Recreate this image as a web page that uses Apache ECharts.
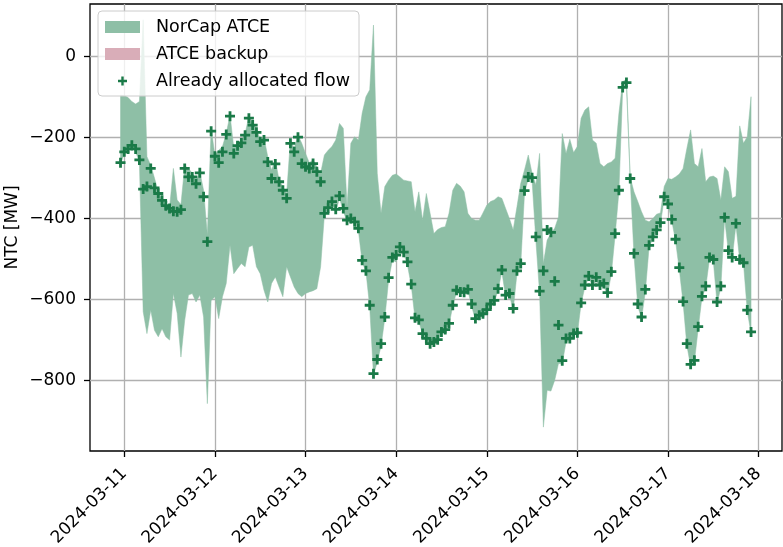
<!DOCTYPE html>
<html><head><meta charset="utf-8">
<script src="https://cdn.jsdelivr.net/npm/echarts@6/dist/echarts.min.js"></script>
<style>html,body{margin:0;padding:0;background:#fff}#c{width:783px;height:547px}</style>
</head><body><div id="c"></div>
<script>
// hourly data, first point 2024-03-10 23:00 UTC
const startTime = '2024-03-10T23:00:00Z';
const flow = [-262,-235,-228,-219,-228,-255,-327,-321,-276,-324,
-338,-355,-368,-375,-382,-383,-378,-276,-297,-297,
-314,-287,-346,-457,-184,-246,-262,-235,-192,-147,
-239,-220,-213,-194,-152,-169,-187,-210,-206,-260,
-301,-265,-309,-330,-350,-214,-235,-199,-264,-272,
-276,-264,-284,-309,-387,-373,-358,-377,-344,-375,
-404,-400,-408,-424,-503,-529,-614,-783,-748,-709,
-643,-546,-496,-490,-470,-483,-507,-562,-645,-650,
-684,-696,-709,-705,-699,-680,-674,-659,-614,-577,
-581,-582,-575,-611,-647,-639,-635,-625,-611,-602,
-573,-527,-589,-585,-622,-529,-511,-331,-297,-299,
-445,-579,-529,-428,-434,-555,-663,-751,-696,-696,
-684,-682,-608,-564,-542,-564,-545,-564,-560,-583,
-531,-437,-330,-76,-64,-301,-486,-611,-643,-575,
-466,-445,-428,-410,-346,-364,-402,-451,-521,-605,
-709,-760,-750,-667,-592,-567,-496,-501,-606,-567,
-397,-479,-496,-412,-501,-509,-626,-680];
const upper = [-95,-96,-101,-111,-117,-111,91,-247,-268,-300,
-334,-352,-364,-372,-276,-354,-365,-270,-276,-288,
-305,-284,-330,-440,-177,-243,-231,-222,-190,-144,
-225,-218,-206,-190,-148,-165,-177,-206,-200,-247,
-280,-255,-305,-321,-338,-206,-227,-194,-214,-239,
-262,-255,-272,-288,-243,-231,-222,-206,-165,-177,
-370,-214,-198,-206,-140,-99,-82,78,-288,-387,
-321,-305,-293,-290,-297,-305,-307,-309,-383,-334,
-404,-338,-387,-437,-427,-422,-420,-387,-330,-313,
-320,-334,-387,-400,-404,-404,-386,-367,-358,-354,
-346,-350,-375,-400,-428,-371,-313,-280,-243,-288,
-317,-239,-511,-453,-437,-424,-396,-190,-239,-204,
-237,-222,-152,-132,-124,-206,-214,-264,-272,-264,
-260,-251,-140,-62,-56,-298,-334,-358,-383,-404,
-408,-400,-389,-386,-321,-301,-303,-297,-290,-276,
-227,-181,-264,-272,-227,-309,-297,-295,-301,-354,
-272,-284,-350,-345,-171,-214,-198,-99];
const lower = [-265,-240,-232,-225,-235,-260,-630,-684,-626,-676,
-692,-672,-692,-700,-585,-634,-742,-651,-589,-585,
-606,-589,-643,-857,-602,-593,-647,-593,-560,-466,
-536,-523,-511,-519,-470,-466,-519,-536,-577,-606,
-560,-544,-569,-593,-519,-544,-569,-585,-593,-585,
-581,-578,-573,-519,-391,-379,-364,-383,-350,-381,
-408,-404,-414,-430,-507,-531,-618,-787,-754,-715,
-647,-552,-503,-507,-474,-486,-515,-565,-647,-653,
-686,-699,-713,-709,-702,-684,-676,-663,-616,-581,
-585,-585,-578,-616,-651,-643,-639,-628,-616,-606,
-577,-531,-593,-589,-626,-536,-515,-338,-301,-305,
-453,-585,-915,-824,-826,-799,-758,-758,-705,-699,
-686,-684,-610,-569,-545,-567,-552,-569,-567,-589,
-536,-441,-334,-81,-70,-305,-490,-616,-647,-581,
-470,-449,-430,-414,-350,-367,-405,-455,-526,-608,
-713,-765,-754,-672,-595,-570,-499,-504,-610,-570,
-400,-482,-499,-416,-503,-511,-628,-684];
const xTickLabels = ['2024-03-11','2024-03-12','2024-03-13','2024-03-14','2024-03-15','2024-03-16','2024-03-17','2024-03-18'];
const yTicks = [-800,-600,-400,-200,0];
const seriesNames = ['NorCap ATCE','ATCE backup','Already allocated flow'];

const HOUR = 3600000;
const t0 = Date.parse(startTime);
const times = flow.map((_, i) => t0 + i * HOUR);
const xTickValues = xTickLabels.map(s => Date.parse(s + 'T00:00:00Z'));
const xMin = Date.parse('2024-03-10T14:55:00Z');
const xMax = Date.parse('2024-03-18T06:12:00Z');
const FONT = 'DejaVu Sans';
const FS = 17;
const PLUS = 'path://M3.6,0H6.4V3.6H10V6.4H6.4V10H3.6V6.4H0V3.6H3.6Z';
const PLUS_LEGEND = 'path://M0,0M12,12M1.5,4.8H4.8V1.5H7.2V4.8H10.5V7.2H7.2V10.5H4.8V7.2H1.5Z';
const GREEN_FILL = '#8ebfa6';
const PINK_FILL = '#d9adb8';
const MARK = '#1a7a48';

const bandData = times.map((t, i) => [t, lower[i], upper[i]]);

const chart = echarts.init(document.getElementById('c'), null, {renderer: 'canvas', width: 783, height: 547});
chart.setOption({
  animation: false,
  textStyle: {fontFamily: FONT},
  grid: {left: 90, right: 1, top: 4, bottom: 96, outerBoundsMode: 'none', containLabel: false,
    show: true, borderColor: '#000', borderWidth: 1.3, backgroundColor: 'transparent'},
  xAxis: {
    type: 'value', min: xMin, max: xMax, scale: true,
    axisLine: {show: false, onZero: false},
    axisTick: {show: true, customValues: xTickValues, length: 6, lineStyle: {color: '#000', width: 1.3}},
    axisLabel: {customValues: xTickValues, rotate: 45, margin: 20, color: '#000', fontSize: FS, fontFamily: FONT,
      formatter: v => new Date(v).toISOString().slice(0, 10)},
    splitLine: {show: true, lineStyle: {color: '#b0b0b0', width: 1.3}}
  },
  yAxis: {
    type: 'value', min: -974, max: 130,
    name: 'NTC [MW]', nameLocation: 'middle', nameGap: 69, nameRotate: 90, nameMoveOverlap: false,
    nameTextStyle: {color: '#000', fontSize: FS, fontFamily: FONT},
    axisLine: {show: false, onZero: false},
    axisTick: {show: true, customValues: yTicks, length: 6, lineStyle: {color: '#000', width: 1.3}},
    axisLabel: {customValues: yTicks, margin: 14, color: '#000', fontSize: FS, fontFamily: FONT,
      formatter: v => (v < 0 ? '\u2212' + Math.abs(v) : String(v))},
    splitLine: {show: true, lineStyle: {color: '#b0b0b0', width: 1.3}}
  },
  legend: {
    orient: 'vertical', left: 98, top: 11,
    padding: [7, 9, 6, 7],
    itemWidth: 35, itemHeight: 12, itemGap: 9,
    backgroundColor: 'rgba(255,255,255,0.8)', borderColor: '#cccccc', borderWidth: 1, borderRadius: 4,
    textStyle: {color: '#000', fontSize: 17.5, fontFamily: FONT, lineHeight: 17, padding: [0, 0, 0, 11]},
    data: [
      {name: seriesNames[0], icon: 'rect', itemStyle: {color: GREEN_FILL}},
      {name: seriesNames[1], icon: 'rect', itemStyle: {color: PINK_FILL}},
      {name: seriesNames[2], icon: PLUS_LEGEND, itemStyle: {color: MARK, opacity: 1}}
    ]
  },
  series: [
    {type: 'custom', name: seriesNames[0], itemStyle: {color: GREEN_FILL}, z: 2,
      encode: {x: 0, y: [1, 2]},
      data: bandData,
      renderItem: function (params, api) {
        if (params.dataIndex !== 0) return null;
        const pts = [];
        for (let i = 0; i < bandData.length; i++) pts.push(api.coord([bandData[i][0], bandData[i][2]]));
        for (let i = bandData.length - 1; i >= 0; i--) pts.push(api.coord([bandData[i][0], bandData[i][1]]));
        return {type: 'polygon', shape: {points: pts}, style: {fill: GREEN_FILL, stroke: GREEN_FILL, lineWidth: 0.5}};
      }},
    {type: 'line', name: seriesNames[1], data: [], itemStyle: {color: PINK_FILL}},
    {type: 'scatter', name: seriesNames[2], symbol: PLUS, symbolSize: 10,
      itemStyle: {color: MARK, opacity: 1}, data: times.map((t, i) => [t, flow[i]]), z: 3}
  ]
});
</script>
</body></html>
